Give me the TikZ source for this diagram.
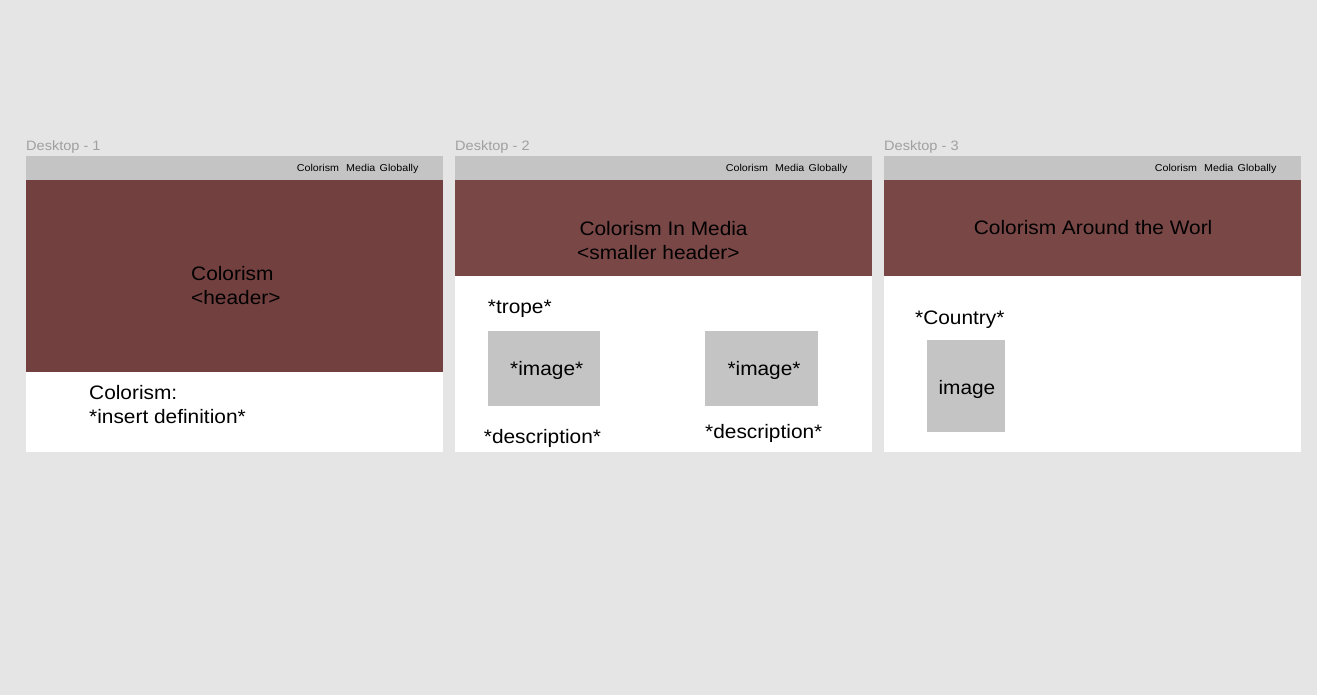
\documentclass[tikz,border=0pt]{standalone}
\usepackage{fontspec}
\setmainfont{Liberation Sans}[FakeStretch=1.07]
\definecolor{bg}{RGB}{229,229,229}
\definecolor{navgray}{RGB}{196,196,196}
\definecolor{brownA}{RGB}{115,64,64}
\definecolor{brownB}{RGB}{122,71,71}
\definecolor{lblgray}{RGB}{160,160,160}
\tikzset{
  frametitle/.style={anchor=base west, inner sep=0pt, text=lblgray, font=\fontsize{13.6}{16}\selectfont},
  navtext/.style={anchor=base west, inner sep=0pt, text=black, font=\fontsize{10}{12}\selectfont},
  bigtext/.style={anchor=base west, inner sep=0pt, text=black, font=\fontsize{19.5}{23}\selectfont},
}
\begin{document}
\begin{tikzpicture}[x=1pt,y=-1pt]
\fill[bg] (0,0) rectangle (1317,695);
\useasboundingbox (0,0) rectangle (1317,695);

% ---------- Frame 1
\node[frametitle] (t1) at (26,150.7) {Desktop - 1};
\fill[white] (26,156) rectangle (443,452);
\fill[navgray] (26,156) rectangle (443,180.5);
\fill[brownA] (26,180.5) rectangle (443,372);
\node[navtext] (n1a) at (296.7,171.3) {Colorism};
\node[navtext] (n1b) at (346,171.3) {Media};
\node[navtext] (n1c) at (379.5,171.3) {Globally};
\node[bigtext] (h1a) at (191,280) {Colorism};
\node[bigtext] (h1b) at (191,304.3) {<header>};
\node[bigtext] (d1a) at (89,399.3) {Colorism:};
\node[bigtext] (d1b) at (89,423.3) {*insert definition*};

% ---------- Frame 2
\node[frametitle] (t2) at (455,150.7) {Desktop - 2};
\fill[white] (455,156) rectangle (872,452);
\fill[navgray] (455,156) rectangle (872,180.5);
\fill[brownB] (455,180.5) rectangle (872,275.7);
\node[navtext] (n2a) at (725.7,171.3) {Colorism};
\node[navtext] (n2b) at (775,171.3) {Media};
\node[navtext] (n2c) at (808.5,171.3) {Globally};
\node[bigtext] (h2a) at (579.3,235.7) {Colorism In Media};
\node[bigtext] (h2b) at (577,259.3) {<smaller header>};
\node[bigtext] (tr2) at (487.7,313.3) {*trope*};
\fill[navgray] (487.7,330.7) rectangle (600.3,405.7);
\fill[navgray] (705,330.7) rectangle (817.7,405.7);
\node[bigtext] (i2a) at (510,375.7) {*image*};
\node[bigtext] (i2b) at (727.3,375.7) {*image*};
\node[bigtext] (ds2a) at (483.7,443.3) {*description*};
\node[bigtext] (ds2b) at (705,438.3) {*description*};

% ---------- Frame 3
\node[frametitle] (t3) at (884,150.7) {Desktop - 3};
\fill[white] (884,156) rectangle (1301,452);
\fill[navgray] (884,156) rectangle (1301,180.5);
\fill[brownB] (884,180.5) rectangle (1301,275.7);
\node[navtext] (n3a) at (1154.7,171.3) {Colorism};
\node[navtext] (n3b) at (1204,171.3) {Media};
\node[navtext] (n3c) at (1237.5,171.3) {Globally};
\node[bigtext] (h3a) at (973.7,235) {Colorism Around the Worl};
\node[bigtext] (c3) at (915,324) {*Country*};
\fill[navgray] (927.3,340.3) rectangle (1005.3,431.7);
\node[bigtext] (i3) at (938.3,394) {image};
\end{tikzpicture}
\end{document}
